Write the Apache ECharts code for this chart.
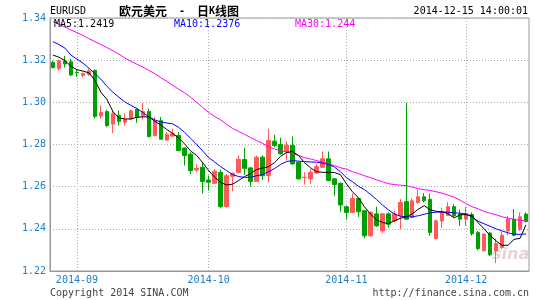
<!DOCTYPE html>
<html><head><meta charset="utf-8">
<script src="https://cdn.jsdelivr.net/npm/echarts@6/dist/echarts.min.js"></script>
<style>html,body{margin:0;padding:0;background:#fff}#c{width:545px;height:300px}</style>
</head><body><div id="c"></div>
<script>
const dates = [
'2014-08-26','2014-08-27','2014-08-28','2014-08-29',
'2014-09-01','2014-09-02','2014-09-03','2014-09-04','2014-09-05','2014-09-08','2014-09-09','2014-09-10','2014-09-11','2014-09-12',
'2014-09-15','2014-09-16','2014-09-17','2014-09-18','2014-09-19','2014-09-22','2014-09-23','2014-09-24','2014-09-25','2014-09-26','2014-09-29','2014-09-30',
'2014-10-01','2014-10-02','2014-10-03','2014-10-06','2014-10-07','2014-10-08','2014-10-09','2014-10-10','2014-10-13','2014-10-14','2014-10-15','2014-10-16','2014-10-17',
'2014-10-20','2014-10-21','2014-10-22','2014-10-23','2014-10-24','2014-10-27','2014-10-28','2014-10-29','2014-10-30','2014-10-31',
'2014-11-03','2014-11-04','2014-11-05','2014-11-06','2014-11-07','2014-11-10','2014-11-11','2014-11-12','2014-11-13','2014-11-14',
'2014-11-17','2014-11-18','2014-11-19','2014-11-20','2014-11-21','2014-11-24','2014-11-25','2014-11-26','2014-11-27','2014-11-28',
'2014-12-01','2014-12-02','2014-12-03','2014-12-04','2014-12-05','2014-12-08','2014-12-09','2014-12-10','2014-12-11','2014-12-12','2014-12-15'
];
// [open, close, low, high]
const ohlc = [
[1.3189,1.3165,1.3160,1.3197],[1.3160,1.3197,1.3149,1.3203],[1.3195,1.3182,1.3165,1.3220],[1.3192,1.3130,1.3125,1.3206],
[1.3142,1.3140,1.3121,1.3155],[1.3128,1.3137,1.3118,1.3141],[1.3132,1.3149,1.3125,1.3160],[1.3152,1.2933,1.2922,1.3155],
[1.2935,1.2952,1.2922,1.2986],[1.2956,1.2890,1.2882,1.2963],[1.2897,1.2946,1.2854,1.2959],[1.2938,1.2910,1.2890,1.2962],
[1.2906,1.2918,1.2890,1.2948],[1.2922,1.2960,1.2915,1.2965],[1.2967,1.2930,1.2903,1.2970],[1.2935,1.2957,1.2919,1.2997],
[1.2957,1.2838,1.2833,1.2970],[1.2843,1.2911,1.2838,1.2930],[1.2913,1.2825,1.2824,1.2930],[1.2821,1.2848,1.2816,1.2859],
[1.2840,1.2851,1.2835,1.2875],[1.2843,1.2771,1.2768,1.2859],[1.2783,1.2748,1.2700,1.2786],[1.2754,1.2676,1.2660,1.2764],
[1.2679,1.2687,1.2668,1.2708],[1.2692,1.2625,1.2568,1.2716],[1.2632,1.2621,1.2581,1.2652],[1.2616,1.2673,1.2613,1.2684],
[1.2668,1.2505,1.2497,1.2681],[1.2506,1.2652,1.2500,1.2660],[1.2649,1.2663,1.2578,1.2668],[1.2667,1.2730,1.2665,1.2748],
[1.2729,1.2687,1.2656,1.2784],[1.2689,1.2625,1.2600,1.2692],[1.2625,1.2740,1.2622,1.2748],[1.2740,1.2652,1.2632,1.2748],
[1.2652,1.2819,1.2621,1.2875],[1.2816,1.2795,1.2787,1.2846],[1.2800,1.2756,1.2751,1.2832],[1.2767,1.2797,1.2724,1.2814],
[1.2795,1.2708,1.2705,1.2838],[1.2716,1.2637,1.2633,1.2719],[1.2643,1.2645,1.2610,1.2668],[1.2637,1.2668,1.2613,1.2684],
[1.2665,1.2695,1.2660,1.2708],[1.2692,1.2732,1.2690,1.2767],[1.2732,1.2629,1.2626,1.2767],[1.2637,1.2610,1.2557,1.2640],
[1.2616,1.2513,1.2481,1.2619],[1.2505,1.2478,1.2446,1.2510],[1.2478,1.2544,1.2475,1.2568],[1.2544,1.2481,1.2457,1.2548],
[1.2486,1.2367,1.2356,1.2490],[1.2367,1.2478,1.2362,1.2483],[1.2471,1.2414,1.2410,1.2505],[1.2390,1.2471,1.2380,1.2475],
[1.2471,1.2422,1.2405,1.2478],[1.2438,1.2471,1.2430,1.2486],[1.2462,1.2525,1.2398,1.2541],[1.2529,1.2446,1.2443,1.2998],
[1.2454,1.2533,1.2450,1.2544],[1.2525,1.2552,1.2520,1.2585],[1.2552,1.2533,1.2525,1.2570],[1.2540,1.2383,1.2367,1.2567],
[1.2354,1.2438,1.2350,1.2445],[1.2437,1.2480,1.2405,1.2500],[1.2464,1.2505,1.2460,1.2527],[1.2505,1.2462,1.2455,1.2517],
[1.2468,1.2446,1.2414,1.2492],[1.2446,1.2473,1.2414,1.2505],[1.2468,1.2377,1.2367,1.2478],[1.2383,1.2306,1.2298,1.2390],
[1.2296,1.2375,1.2292,1.2378],[1.2380,1.2277,1.2270,1.2386],[1.2295,1.2330,1.2238,1.2354],[1.2311,1.2370,1.2305,1.2386],
[1.2390,1.2446,1.2370,1.2462],[1.2446,1.2370,1.2365,1.2494],[1.2398,1.2457,1.2390,1.2478],[1.2470,1.2435,1.2430,1.2478]
];
const ma5 = [
1.3224,1.3214,1.3198,1.3171,1.3155,1.3148,1.3140,1.3105,1.3048,1.3014,
1.2957,1.2926,1.2921,1.2921,1.2929,1.2931,1.2931,1.2910,1.2893,1.2871,
1.2852,1.2831,1.2802,1.2769,1.2748,1.2714,1.2676,1.2645,1.2620,1.2608,
1.2612,1.2629,1.2648,1.2662,1.2681,1.2688,1.2695,1.2714,1.2743,1.2762,
1.2767,1.2748,1.2714,1.2690,1.2671,1.2668,1.2668,1.2667,1.2657,1.2614,
1.2576,1.2548,1.2505,1.2471,1.2443,1.2431,1.2424,1.2438,1.2450,1.2457,
1.2471,1.2493,1.2510,1.2490,1.2483,1.2481,1.2471,1.2452,1.2467,1.2467,
1.2462,1.2429,1.2400,1.2369,1.2343,1.2322,1.2322,1.2350,1.2355,1.2419
];
const ma10 = [
1.3288,1.3274,1.3257,1.3224,1.3205,1.3186,1.3162,1.3136,1.3110,1.3076,
1.3048,1.3024,1.3002,1.2986,1.2971,1.2952,1.2931,1.2917,1.2907,1.2902,
1.2898,1.2881,1.2857,1.2829,1.2800,1.2769,1.2738,1.2717,1.2695,1.2676,
1.2657,1.2648,1.2644,1.2645,1.2652,1.2657,1.2671,1.2686,1.2705,1.2719,
1.2724,1.2721,1.2719,1.2717,1.2716,1.2712,1.2705,1.2693,1.2671,1.2643,
1.2624,1.2602,1.2586,1.2564,1.2540,1.2514,1.2490,1.2471,1.2460,1.2457,
1.2457,1.2462,1.2469,1.2476,1.2479,1.2480,1.2479,1.2476,1.2474,1.2471,
1.2455,1.2436,1.2424,1.2412,1.2400,1.2390,1.2381,1.2374,1.2374,1.2376
];
const ma30 = [
1.3383,1.3371,1.3357,1.3343,1.3331,1.3317,1.3302,1.3288,1.3274,1.3260,
1.3245,1.3229,1.3210,1.3195,1.3181,1.3167,1.3152,1.3136,1.3117,1.3100,
1.3081,1.3062,1.3045,1.3024,1.3000,1.2976,1.2952,1.2933,1.2917,1.2895,
1.2876,1.2862,1.2848,1.2833,1.2819,1.2805,1.2790,1.2779,1.2771,1.2764,
1.2757,1.2748,1.2738,1.2731,1.2724,1.2717,1.2710,1.2700,1.2690,1.2683,
1.2671,1.2662,1.2652,1.2643,1.2633,1.2624,1.2614,1.2610,1.2607,1.2605,
1.2598,1.2590,1.2586,1.2582,1.2576,1.2569,1.2560,1.2550,1.2536,1.2519,
1.2505,1.2495,1.2483,1.2474,1.2467,1.2457,1.2450,1.2445,1.2440,1.2440
];
const monthTicks = ['2014-09','2014-10','2014-11','2014-12'];
const yTicks = [1.22,1.24,1.26,1.28,1.30,1.32,1.34];

const mono = 'DejaVu Sans Mono';
const blue = '#1a80c8';
const isMonthStart = (i) => i > 0 && monthTicks.indexOf(dates[i].slice(0,7)) >= 0 && dates[i].slice(0,7) !== dates[i-1].slice(0,7);
const fmt = v => String(parseFloat(v.toFixed(4)));
const last = a => a[a.length-1];

const chart = echarts.init(document.getElementById('c'));
const txt = (o) => Object.assign({padding:0, itemGap:0}, o);
chart.setOption({
  animation:false,
  backgroundColor:'#fff',
  title:[
    txt({text:'EURUSD', left:50, top:6, textStyle:{fontFamily:mono, fontSize:10, fontWeight:'normal', color:'#000'}}),
    txt({text:'{a|欧元美元}{b|  -  }{a|日}{k|K}{a|线图}', left:119, top:5, textStyle:{rich:{
      a:{fontFamily:'Noto Sans CJK SC', fontSize:12, color:'#000'},
      b:{fontFamily:mono, fontSize:10, color:'#000'},
      k:{fontFamily:mono, fontSize:10, color:'#000', fontWeight:'bold'}}}}),
    txt({text:'2014-12-15 14:00:01', right:17, top:6, textStyle:{fontFamily:mono, fontSize:10, fontWeight:'normal', color:'#000'}}),
    txt({text:'MA5:' + fmt(last(ma5)), left:54, top:19, textStyle:{fontFamily:mono, fontSize:10, fontWeight:'normal', color:'#000'}}),
    txt({text:'MA10:' + fmt(last(ma10)), left:174, top:19, textStyle:{fontFamily:mono, fontSize:10, fontWeight:'normal', color:'#0000ff'}}),
    txt({text:'MA30:' + fmt(last(ma30)), left:295, top:19, textStyle:{fontFamily:mono, fontSize:10, fontWeight:'normal', color:'#ff00ff'}}),
    txt({text:'Copyright 2014 SINA.COM', left:50, top:288, textStyle:{fontFamily:mono, fontSize:10, fontWeight:'normal', color:'#444'}}),
    txt({text:'http://finance.sina.com.cn', right:16, top:288, textStyle:{fontFamily:mono, fontSize:10, fontWeight:'normal', color:'#444'}})
  ],
  graphic:[{type:'text', left:492, top:247, silent:true, z:-1,
    style:{text:'sina', fill:'rgba(210,185,185,0.6)', font:'italic bold 16px "DejaVu Sans"'}}],
  grid:{left:50, right:16, top:18, bottom:29, show:true, borderColor:'#999', borderWidth:1},
  xAxis:{type:'category', data:dates, boundaryGap:true,
    axisLine:{lineStyle:{color:'#999'}}, axisTick:{show:false},
    axisLabel:{interval:(i)=>isMonthStart(i), formatter:v=>v.slice(0,7), color:blue, fontFamily:mono, fontSize:10, margin:4},
    splitLine:{show:true, interval:(i)=>isMonthStart(i), alignWithLabel:true, lineStyle:{color:'#aaa', type:[1,2]}}},
  yAxis:{type:'value', min:yTicks[0], max:last(yTicks), interval:0.02, scale:true,
    axisLine:{show:true, lineStyle:{color:'#999'}}, axisTick:{show:false},
    axisLabel:{formatter:v=>v.toFixed(2), color:blue, fontFamily:mono, fontSize:10, margin:4},
    splitLine:{lineStyle:{color:'#aaa', type:[1,2]}}},
  series:[
    {type:'candlestick', data:ohlc, barWidth:4,
      itemStyle:{color:'#ff5a5a', color0:'#00a000', borderColor:'#ff5a5a', borderColor0:'#00a000', borderWidth:1}},
    {type:'line', data:ma30, symbol:'none', lineStyle:{color:'#ff00ff', width:1}},
    {type:'line', data:ma10, symbol:'none', lineStyle:{color:'#0000ff', width:1}},
    {type:'line', data:ma5, symbol:'none', lineStyle:{color:'#000000', width:1}}
  ]
});
</script></body></html>
